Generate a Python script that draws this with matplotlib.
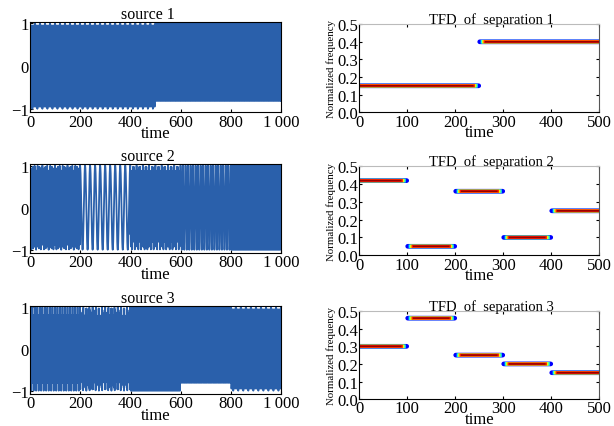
import numpy as np
import matplotlib.pyplot as plt

plt.rcParams['font.family'] = ['Liberation Serif', 'DejaVu Serif']

edges_1 = [0, 250, 500]
freqs_1 = [0.15, 0.40]
edges_2 = [0, 100, 200, 300, 400, 500]
freqs_2 = [0.42, 0.05, 0.36, 0.10, 0.25]
edges_3 = [0, 100, 200, 300, 400, 500]
freqs_3 = [0.30, 0.46, 0.25, 0.20, 0.15]

n_samples = 1000          # source signals are 1000 samples, TFD time = sample/2
src_xticks = [0, 200, 400, 600, 800, 1000]
src_xlabels = ['0', '200', '400', '600', '800', '1\u2009000']
tfd_xticks = [0, 100, 200, 300, 400, 500]
tfd_yticks = [0.0, 0.1, 0.2, 0.3, 0.4, 0.5]

blue = '#2a60ab'
jet = plt.get_cmap('jet')
# contour layers of the ridge: (jet level, line width, how much shorter at the ends)
layers = [(0.12, 3.4, 1), (0.38, 2.8, 3), (0.65, 2.5, 6), (0.88, 2.2, 9), (0.98, 1.1, 12)]


def freq_track(edges, freqs, t):
    f = np.zeros_like(t, dtype=float)
    for k in range(len(freqs)):
        m = (t >= edges[k]) & (t < edges[k + 1]) if k < len(freqs) - 1 else (t >= edges[k])
        f[m] = freqs[k]
    return f


def source_signal(edges, freqs):
    n = np.arange(n_samples + 1)
    f = freq_track(edges, freqs, n / 2.0)
    phase = 2 * np.pi * np.cumsum(f)
    return n, np.cos(phase)


def draw_tfd(ax, edges, freqs):
    for k in range(len(freqs)):
        a, b = edges[k], edges[k + 1]
        for lev, lw, cut in layers:
            x0 = a + cut if a > 0 else a
            x1 = b - cut if b < 500 else b
            cap = 'round' if lev < 0.2 else 'butt'
            ax.plot([x0, x1], [freqs[k], freqs[k]], color=jet(lev), lw=lw,
                    solid_capstyle=cap, snap=False)


fig = plt.figure(figsize=(6.14, 4.27), dpi=100)

left_pos = [[0.049, 0.735, 0.409, 0.211],
            [0.049, 0.405, 0.409, 0.208],
            [0.049, 0.075, 0.409, 0.206]]
right_pos = [[0.585, 0.735, 0.391, 0.206],
             [0.585, 0.400, 0.391, 0.208],
             [0.585, 0.063, 0.391, 0.206]]

all_edges = [edges_1, edges_2, edges_3]
all_freqs = [freqs_1, freqs_2, freqs_3]

for i in range(3):
    ax = fig.add_axes(left_pos[i])
    n, s = source_signal(all_edges[i], all_freqs[i])
    ax.plot(n, s, color=blue, lw=1.3)
    ax.set_xlim(0, 1000)
    ax.set_ylim(-1.08, 1.03)
    ax.set_xticks(src_xticks)
    ax.set_xticklabels(src_xlabels)
    ax.set_yticks([-1, 0, 1])
    ax.set_yticklabels(['\u22121', '0', '1'])
    ax.tick_params(direction='in', length=2, labelsize=12, pad=1)
    ax.set_xlabel('time', fontsize=12, labelpad=-3)
    ax.set_title('source %d' % (i + 1), fontsize=11.5, pad=0.5, x=0.47)
    for sp in ax.spines.values():
        sp.set_linewidth(0.8)

    ax = fig.add_axes(right_pos[i])
    draw_tfd(ax, all_edges[i], all_freqs[i])
    ax.set_xlim(0, 500)
    ax.set_ylim(0, 0.5)
    ax.set_xticks(tfd_xticks)
    ax.set_yticks(tfd_yticks)
    ax.set_yticklabels(['%.1f' % v for v in tfd_yticks])
    ax.tick_params(direction='in', length=2, labelsize=12, pad=1, right=True, top=True)
    ax.set_xlabel('time', fontsize=12, labelpad=-4)
    ax.set_ylabel('Normalized frequency', fontsize=7.8, labelpad=1)
    ax.set_title('TFD  of  separation %d' % (i + 1), fontsize=10.5, pad=1, x=0.55)
    ax.spines['top'].set_color('#bbbbbb')
    ax.spines['right'].set_color('#555555')
    for sp in ax.spines.values():
        sp.set_linewidth(0.8)

fig.savefig('out.png', dpi=100)
